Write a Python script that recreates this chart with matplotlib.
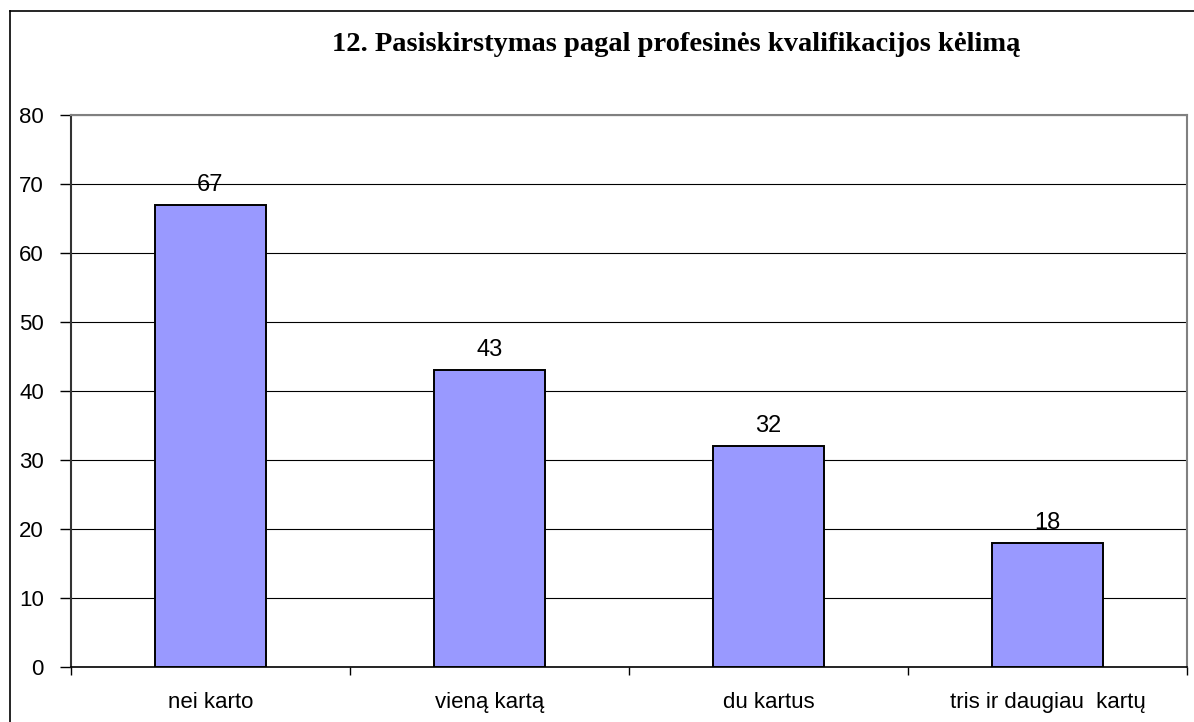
import matplotlib.pyplot as plt
from matplotlib.lines import Line2D

categories = ['nei karto', 'vieną kartą', 'du kartus', 'tris ir daugiau  kartų']
values = [67, 43, 32, 18]
yticks = [0, 10, 20, 30, 40, 50, 60, 70, 80]
title = '12. Pasiskirstymas pagal profesinės kvalifikacijos kėlimą'

W, H = 1194, 722
fig = plt.figure(figsize=(W / 100, H / 100), dpi=100)
ax = fig.add_axes([71 / W, 1 - 667 / H, (1187 - 71) / W, (667 - 115) / H])

x = list(range(len(categories)))
bars = ax.bar(x, values, width=0.4, color='#9999FF', edgecolor='black', linewidth=1.4, zorder=3)

for b, v in zip(bars, values):
    ax.annotate(str(v), (b.get_x() + b.get_width() / 2, v), xytext=(0, 10),
                textcoords='offset points', ha='center', va='baseline',
                fontsize=17, family='Liberation Sans')

ax.set_xlim(-0.5, len(categories) - 0.5)
ax.set_ylim(0, 80)
ax.set_yticks(yticks)
ax.yaxis.grid(True, color='black', linewidth=0.8, zorder=0)
ax.set_axisbelow(True)

ax.set_xticks(x)
ax.set_xticklabels(categories, fontsize=16, family='Liberation Sans')
ax.set_xticks([i - 0.5 for i in range(len(categories) + 1)], minor=True)
ax.tick_params(axis='x', which='major', length=0, pad=18)
ax.tick_params(axis='x', which='minor', length=6, width=1, color='black', direction='out')
ax.tick_params(axis='y', length=8, width=1, color='black', pad=11.5, labelsize=16)
for lab in ax.get_yticklabels():
    lab.set_family('Liberation Sans')

ax.spines['top'].set_color('#808080')
ax.spines['right'].set_color('#808080')
ax.spines['top'].set_linewidth(1.5)
ax.spines['right'].set_linewidth(1.5)
ax.spines['left'].set_color('#333333')
ax.spines['left'].set_linewidth(1.5)
ax.spines['bottom'].set_color('black')
ax.spines['bottom'].set_linewidth(1.2)

fig.text(676 / W, 1 - 51 / H, title, ha='center', va='baseline',
         fontsize=20.5, fontweight='bold', family='Liberation Serif')

# outer chart border (top and left edges visible)
fig.add_artist(Line2D([10 / W, 1], [1 - 11 / H, 1 - 11 / H], color='black', linewidth=1.2))
fig.add_artist(Line2D([10 / W, 10 / W], [0, 1 - 11 / H], color='black', linewidth=1.2))

fig.savefig('out.png', dpi=100)
